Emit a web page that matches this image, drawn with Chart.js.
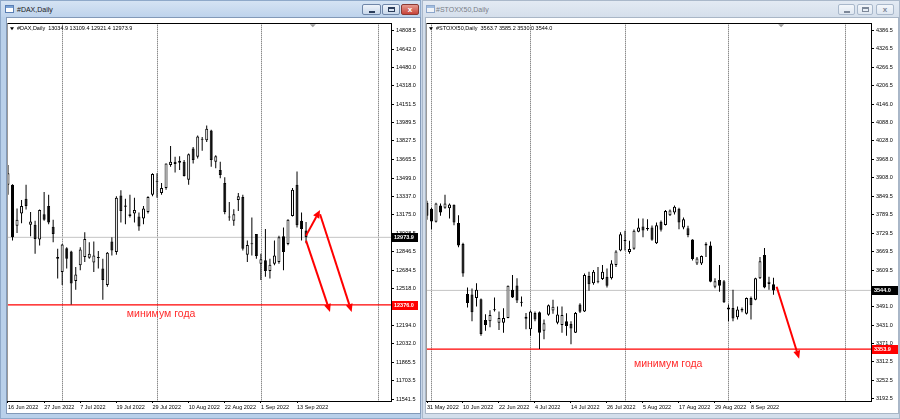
<!DOCTYPE html>
<html><head><meta charset="utf-8">
<script src="https://cdn.jsdelivr.net/npm/chart.js@4.4.1/dist/chart.umd.min.js"></script>
<style>
*{box-sizing:border-box}
html,body{margin:0;padding:0}
body{width:900px;height:419px;position:relative;overflow:hidden;background:#c8d7ea;font-family:"Liberation Sans",Arial,sans-serif}
.abs{position:absolute}
#f1{left:0;top:0;width:421px;height:419px;background:#b9d0ea;border:1px solid #8fa9c9}
#t1{left:1px;top:1px;width:419px;height:16px;background:linear-gradient(#d5e3f3,#bed3ec)}
#c1{left:6px;top:17px;width:415px;height:397px;background:#fff;border:1px solid #8299b8}
#f2{left:422px;top:0;width:478px;height:419px;background:#d3deeb;border:1px solid #aab8ca}
#t2{left:423px;top:1px;width:476px;height:16px;background:linear-gradient(#e3eaf3,#d5dfeb)}
#c2{left:425px;top:17px;width:474px;height:397px;background:#fff;border:1px solid #a9b6c6}
.tt{font-size:7px;top:6px;white-space:nowrap}
.btn{top:4px;height:11px;border-radius:2px}
.b1{border:1px solid #6f86a8;background:linear-gradient(#eef3fa,#c9d8eb)}
.b2{border:1px solid #a9b8cb;background:linear-gradient(#f4f7fb,#dfe7f1)}
.bx{border:1px solid #8a3a33;background:linear-gradient(#e59a8f,#c8443a)}
.ico{width:9px;height:8px;top:5px;border:1px solid #5a7fb4;background:linear-gradient(#7aa2d6 0,#7aa2d6 2px,#fff 2px)}
canvas{position:absolute}
</style>
</head><body>
<div class="abs" id="f1"></div><div class="abs" id="t1"></div><div class="abs" id="c1"></div>
<div class="abs" id="f2"></div><div class="abs" id="t2"></div><div class="abs" id="c2"></div>
<div class="abs ico" style="left:5px"></div>
<div class="abs tt" style="left:17px;color:#1a1a1a">#DAX,Daily</div>
<div class="abs btn b1" style="left:362px;width:19px"><div class="abs" style="left:6px;top:6px;width:6px;height:2px;background:#2c3e5c"></div></div>
<div class="abs btn b1" style="left:382px;width:18px"><div class="abs" style="left:5px;top:2px;width:7px;height:5px;border:1px solid #2c3e5c;border-top-width:2px"></div></div>
<div class="abs btn bx" style="left:401px;width:18px;color:#fff;font-size:8px;font-weight:bold;text-align:center;line-height:9px">x</div>
<div class="abs ico" style="left:426px;opacity:.6"></div>
<div class="abs tt" style="left:436px;color:#7a7f88">#STOXX50,Daily</div>
<div class="abs btn b2" style="left:838px;width:17px"><div class="abs" style="left:5px;top:6px;width:6px;height:2px;background:#7d8899"></div></div>
<div class="abs btn b2" style="left:857px;width:16px"><div class="abs" style="left:4px;top:2px;width:7px;height:5px;border:1px solid #7d8899;border-top-width:2px"></div></div>
<div class="abs btn b2" style="left:876px;width:18px;color:#7d8899;font-size:8px;font-weight:bold;text-align:center;line-height:9px">x</div>
<canvas id="cv1" width="413" height="395" style="left:7px;top:18px"></canvas>
<canvas id="cv2" width="472" height="395" style="left:426px;top:18px"></canvas>
<script>
// ---------- categories (trading days 31 May 2022 .. 15 Sep 2022) ----------
const tradingDays = ['2022-05-31',
 '2022-06-01','2022-06-02','2022-06-03','2022-06-06','2022-06-07','2022-06-08','2022-06-09','2022-06-10','2022-06-13','2022-06-14','2022-06-15','2022-06-16','2022-06-17','2022-06-20','2022-06-21','2022-06-22','2022-06-23','2022-06-24','2022-06-27','2022-06-28','2022-06-29','2022-06-30',
 '2022-07-01','2022-07-04','2022-07-05','2022-07-06','2022-07-07','2022-07-08','2022-07-11','2022-07-12','2022-07-13','2022-07-14','2022-07-15','2022-07-18','2022-07-19','2022-07-20','2022-07-21','2022-07-22','2022-07-25','2022-07-26','2022-07-27','2022-07-28','2022-07-29',
 '2022-08-01','2022-08-02','2022-08-03','2022-08-04','2022-08-05','2022-08-08','2022-08-09','2022-08-10','2022-08-11','2022-08-12','2022-08-15','2022-08-16','2022-08-17','2022-08-18','2022-08-19','2022-08-22','2022-08-23','2022-08-24','2022-08-25','2022-08-26','2022-08-29','2022-08-30','2022-08-31',
 '2022-09-01','2022-09-02','2022-09-05','2022-09-06','2022-09-07','2022-09-08','2022-09-09','2022-09-12','2022-09-13','2022-09-14','2022-09-15'];
const daxDates = tradingDays.slice(11);
const stoxxDates = tradingDays.slice(0);

// ---------- #DAX Daily ----------
const daxOpen  = [13440,13440,13076,13186,13315,13085,13085,12954,13178,13251,13068,12785,12668,12878,12849,12587,12727,12800,12793,12750,12800,12697,12552,12937,12843,13344,13256,13164,13186,13158,13140,13199,13352,13466,13367,13411,13614,13644,13653,13644,13483,13760,13688,13848,13833,13920,13644,13571,13455,13158,13120,13304,13332,12820,12913,13003,12741,12771,12675,12741,12756,12983,12916,13164,13440,13120,13034.9];
const daxHigh  = [13614,13445,13230,13304,13440,13199,13120,13220,13376,13352,13129,12872,12916,12887,12855,12712,12887,13018,12931,12937,12852,12785,12843,12974,13338,13391,13315,13352,13324,13193,13251,13338,13542,13542,13455,13629,13784,13688,13693,13658,13717,13775,13877,13863,13964,13926,13702,13644,13507,13286,13222,13367,13352,12946,13149,13003,12828,13047,12785,12946,12989,13062,13134,13411,13557,13193,13109.4];
const daxLow   = [13352,12945,13012,13099,13221,12983,12828,12902,13120,13090,12931,12610,12552,12697,12380,12509,12683,12756,12785,12668,12697,12421,12537,12814,12820,13105,13090,13149,13105,13033,13090,13186,13338,13324,13352,13396,13600,13548,13571,13513,13440,13629,13673,13740,13819,13600,13586,13498,13178,13120,13077,13208,12858,12756,12814,12785,12596,12625,12610,12727,12741,12683,12904,13158,13062,12946,12921.4];
const daxClose = [13542,12974,13129,13251,13251,13114,12959,13216,13129,13105,13003,12800,12910,12785,12566,12645,12867,12959,12828,12814,12791,12596,12837,12858,13324,13207,13245,13178,13216,13070,13230,13332,13536,13472,13411,13629,13644,13623,13635,13518,13711,13658,13868,13839,13935,13658,13693,13527,13199,13149,13178,13338,12872,12907,12918,12808,12780,12675,12732,12814,12974,12843,13129,13396,13082,13047,12973.9];
const daxYearLow = 12376.0;
const daxYTicks = [14808.5,14642.0,14480.0,14318.0,14151.5,13989.5,13827.5,13665.5,13499.0,13337.0,13175.0,13008.5,12846.5,12684.5,12518.0,12356.0,12194.0,12032.0,11865.5,11703.5,11541.5];
const daxXLabels = ['16 Jun 2022','27 Jun 2022','7 Jul 2022','19 Jul 2022','29 Jul 2022','10 Aug 2022','22 Aug 2022','1 Sep 2022','13 Sep 2022'];
const daxMonthBars = [12,33,56,82];
const daxArrows = [[66.0,12989,69.1,13216],[66.0,12945,71.3,12313],[69.1,13178,76.1,12313]];
const daxNote = {text:'минимум года', x:33.9, y:12293};

// ---------- #STOXX50 Daily ----------
const stoxxOpen  = [3828,3808,3766,3819,3812,3810,3821,3762,3694,3532,3531,3519,3515,3448,3444,3482,3439,3439,3455,3546,3560,3506,3452,3418,3471,3473,3413,3465,3479,3439,3432,3444,3436,3407,3498,3476,3591,3567,3575,3581,3588,3583,3626,3673,3706,3668,3679,3734,3751,3746,3748,3697,3766,3756,3787,3796,3808,3748,3745,3709,3631,3631,3689,3689,3556,3578,3574,3482,3487,3457,3484,3468,3519,3514,3583,3659,3565,3563.7];
const stoxxHigh  = [3834,3812,3828,3825,3854,3825,3822,3787,3698,3553,3550,3567,3518,3467,3480,3521,3476,3486,3560,3594,3583,3524,3471,3479,3476,3476,3450,3498,3514,3492,3492,3470,3444,3474,3502,3599,3604,3610,3620,3626,3615,3642,3674,3732,3737,3705,3741,3777,3777,3774,3754,3764,3770,3804,3806,3819,3812,3780,3753,3710,3652,3657,3700,3702,3583,3626,3578,3498,3546,3492,3489,3521,3524,3585,3652,3681,3588,3585.2];
const stoxxLow   = [3773,3742,3764,3786,3808,3777,3755,3684,3588,3489,3444,3492,3397,3413,3425,3476,3416,3407,3454,3519,3503,3492,3418,3397,3444,3354,3386,3462,3468,3434,3407,3397,3370,3406,3471,3474,3543,3562,3567,3578,3553,3579,3620,3671,3673,3663,3676,3732,3716,3737,3705,3694,3735,3754,3785,3790,3742,3742,3716,3641,3626,3626,3652,3570,3551,3540,3503,3444,3444,3450,3473,3466,3450,3512,3581,3551,3546,3530.0];
const stoxxClose = [3786,3767,3825,3796,3825,3822,3764,3689,3599,3503,3473,3546,3403,3432,3464,3480,3455,3455,3559,3521,3511,3504,3459,3476,3450,3407,3438,3496,3491,3466,3464,3429,3421,3471,3475,3594,3564,3604,3572,3604,3559,3631,3670,3726,3704,3678,3737,3748,3738,3742,3708,3755,3740,3801,3803,3815,3764,3774,3723,3646,3647,3655,3695,3572,3574,3559,3506,3489,3453,3482,3479,3519,3496,3583,3638,3553,3572,3544.0];
const stoxxYearLow = 3353.9;
const stoxxYTicks = [4386.5,4326.5,4266.5,4206.5,4146.0,4088.0,4028.0,3968.0,3908.0,3849.5,3789.5,3729.5,3669.5,3609.5,3549.5,3491.0,3431.0,3371.0,3312.5,3252.5,3192.5];
const stoxxXLabels = ['31 May 2022','10 Jun 2022','22 Jun 2022','4 Jul 2022','14 Jul 2022','26 Jul 2022','5 Aug 2022','17 Aug 2022','29 Aug 2022','8 Sep 2022'];
const stoxxMonthBars = [1,23,44,67,93];
const stoxxArrows = [[77.7,3556,82.7,3323]];
const stoxxNote = {text:'минимум года', x:53.6, y:3304};

Chart.defaults.font.family = '"Liberation Sans", Arial, sans-serif';
const FS = 5.5;

function drawArrow(ctx, x1, y1, x2, y2) {
  const a = Math.atan2(y2 - y1, x2 - x1), hl = 8, hw = 3.5;
  const bx = x2 - hl * Math.cos(a), by = y2 - hl * Math.sin(a);
  ctx.strokeStyle = '#ff0000'; ctx.fillStyle = '#ff0000'; ctx.lineWidth = 2;
  ctx.beginPath(); ctx.moveTo(x1, y1); ctx.lineTo(bx, by); ctx.stroke();
  ctx.beginPath(); ctx.moveTo(x2, y2);
  ctx.lineTo(bx - hw * Math.sin(a), by + hw * Math.cos(a));
  ctx.lineTo(bx + hw * Math.sin(a), by - hw * Math.cos(a));
  ctx.closePath(); ctx.fill();
}

function buildChart(id, o) {
  const n = o.open.length;
  const bodies = [], wicks = [], fills = [];
  for (let i = 0; i < n; i++) {
    wicks.push({x: i, y: [o.low[i], o.high[i]]});
    bodies.push({x: i, y: [o.open[i], o.close[i]]});
    fills.push(o.close[i] >= o.open[i] ? '#ffffff' : '#000000');
  }
  const last = n - 1;
  const overlay = {
    id: 'mt4overlay',
    beforeDatasetsDraw(chart) {
      const {ctx, chartArea: ca, scales: {x}} = chart;
      ctx.save();
      ctx.strokeStyle = '#5a5a5a'; ctx.lineWidth = 1; ctx.setLineDash([1, 1]);
      o.monthBars.forEach(b => {
        const px = Math.round(x.getPixelForValue(b)) + 0.5;
        ctx.beginPath(); ctx.moveTo(px, ca.top); ctx.lineTo(px, ca.bottom); ctx.stroke();
      });
      ctx.restore();
    },
    afterDatasetsDraw(chart) {
      const {ctx, chartArea: ca, scales: {x, y}} = chart;
      ctx.save();
      ctx.beginPath(); ctx.rect(ca.left, ca.top, ca.right - ca.left, ca.bottom - ca.top); ctx.clip();
      o.arrows.forEach(a => drawArrow(ctx, x.getPixelForValue(a[0]), y.getPixelForValue(a[1]), x.getPixelForValue(a[2]), y.getPixelForValue(a[3])));
      ctx.fillStyle = '#ff2b2b'; ctx.font = '10.5px "Liberation Sans", Arial, sans-serif';
      ctx.textAlign = 'center'; ctx.textBaseline = 'middle';
      ctx.fillText(o.note.text, x.getPixelForValue(o.note.x), y.getPixelForValue(o.note.y));
      ctx.restore();
    },
    afterDraw(chart) {
      const {ctx, chartArea: ca, scales: {x, y}} = chart;
      ctx.save();
      // frame top & left
      ctx.strokeStyle = '#000'; ctx.lineWidth = 1;
      ctx.beginPath(); ctx.moveTo(ca.left, Math.floor(ca.top) + 0.5); ctx.lineTo(ca.right, Math.floor(ca.top) + 0.5); ctx.stroke();
      ctx.strokeStyle = '#9a9a9a';
      ctx.beginPath(); ctx.moveTo(Math.floor(ca.left) + 0.5, ca.top); ctx.lineTo(Math.floor(ca.left) + 0.5, ca.bottom); ctx.stroke();
      // header
      ctx.fillStyle = '#000';
      ctx.beginPath(); ctx.moveTo(ca.left + 3, ca.top + 4); ctx.lineTo(ca.left + 7, ca.top + 4); ctx.lineTo(ca.left + 5, ca.top + 7); ctx.closePath(); ctx.fill();
      ctx.font = FS + 'px "Liberation Sans", Arial, sans-serif'; ctx.textBaseline = 'middle'; ctx.textAlign = 'left';
      ctx.fillText(o.name + '  ' + [o.open[last], o.high[last], o.low[last], o.close[last]].map(v => v.toFixed(1)).join(' '), ca.left + 10, ca.top + 5.5);
      // chart shift marker
      const mx = x.getPixelForValue(o.shiftBar);
      ctx.fillStyle = '#9c9c9c';
      ctx.beginPath(); ctx.moveTo(mx - 3, ca.top + 1); ctx.lineTo(mx + 3, ca.top + 1); ctx.lineTo(mx, ca.top + 4); ctx.closePath(); ctx.fill();
      // price boxes on axis
      const box = (v, bg) => {
        const py = Math.round(y.getPixelForValue(v));
        ctx.fillStyle = bg; ctx.fillRect(ca.right + 1, py - 4, 26, 9);
        ctx.fillStyle = '#fff'; ctx.font = 'bold ' + FS + 'px "Liberation Sans", Arial, sans-serif';
        ctx.textAlign = 'left'; ctx.textBaseline = 'middle';
        ctx.fillText(v.toFixed(1), ca.right + 3, py + 0.5);
      };
      box(o.close[last], '#000000');
      box(o.yearLow, '#ff0000');
      ctx.restore();
    }
  };
  return new Chart(document.getElementById(id), {
    type: 'bar',
    data: {datasets: [
      {label: 'body', data: bodies, backgroundColor: fills, borderColor: '#000', borderWidth: 1, borderSkipped: false, barThickness: 3, grouped: false, order: 0, inflateAmount: 0, minBarLength: 1},
      {label: 'wick', data: wicks, backgroundColor: '#000', borderWidth: 0, barThickness: 1, grouped: false, order: 1, inflateAmount: 0},
      {type: 'line', label: 'last', data: [{x: o.xMin, y: o.close[last]}, {x: o.xMax, y: o.close[last]}], borderColor: '#c4c4c4', borderWidth: 1, pointRadius: 0, order: 3},
      {type: 'line', label: 'yearLow', data: [{x: o.xMin, y: o.yearLow}, {x: o.xMax, y: o.yearLow}], borderColor: '#ff0000', borderWidth: 1.2, pointRadius: 0, order: 2}
    ]},
    options: {
      responsive: false, animation: false, events: [],
      layout: {padding: 0},
      plugins: {legend: {display: false}, tooltip: {enabled: false}},
      scales: {
        x: {
          type: 'linear', min: o.xMin, max: o.xMax, offset: false,
          afterBuildTicks: s => { s.ticks = o.xLabels.map((_, i) => ({value: i * 8})); },
          ticks: {align: 'start', autoSkip: false, maxRotation: 0, minRotation: 0, padding: 1, color: '#000', font: {size: FS}, callback: (v, i) => o.xLabels[i]},
          grid: {drawOnChartArea: false, drawTicks: true, tickLength: 2, color: '#000', offset: false},
          border: {display: true, color: '#000'},
          afterFit: s => { s.height = 12; }
        },
        y: {
          position: 'right', min: o.yMin, max: o.yMax,
          afterBuildTicks: s => { s.ticks = o.yTicks.map(v => ({value: v})); },
          ticks: {autoSkip: false, padding: 2, color: '#000', font: {size: FS}, callback: v => v.toFixed(1)},
          grid: {drawOnChartArea: false, drawTicks: true, tickLength: 3, color: '#000'},
          border: {display: true, color: '#000'},
          afterFit: s => { s.width = o.yWidth; }
        }
      }
    },
    plugins: [overlay]
  });
}

buildChart('cv1', {
  name: '#DAX,Daily', dates: daxDates, open: daxOpen, high: daxHigh, low: daxLow, close: daxClose,
  yearLow: daxYearLow, yTicks: daxYTicks, xLabels: daxXLabels, monthBars: daxMonthBars,
  arrows: daxArrows, note: daxNote, shiftBar: 67.5,
  xMin: -0.22, xMax: 84.81, yMin: 11524.3, yMax: 14869.8, yWidth: 29
});
buildChart('cv2', {
  name: '#STOXX50,Daily', dates: stoxxDates, open: stoxxOpen, high: stoxxHigh, low: stoxxLow, close: stoxxClose,
  yearLow: stoxxYearLow, yTicks: stoxxYTicks, xLabels: stoxxXLabels, monthBars: stoxxMonthBars,
  arrows: stoxxArrows, note: stoxxNote, shiftBar: 78.7,
  xMin: -0.22, xMax: 98.67, yMin: 3185.9, yMax: 4408.8, yWidth: 27
});
</script>
</body></html>
